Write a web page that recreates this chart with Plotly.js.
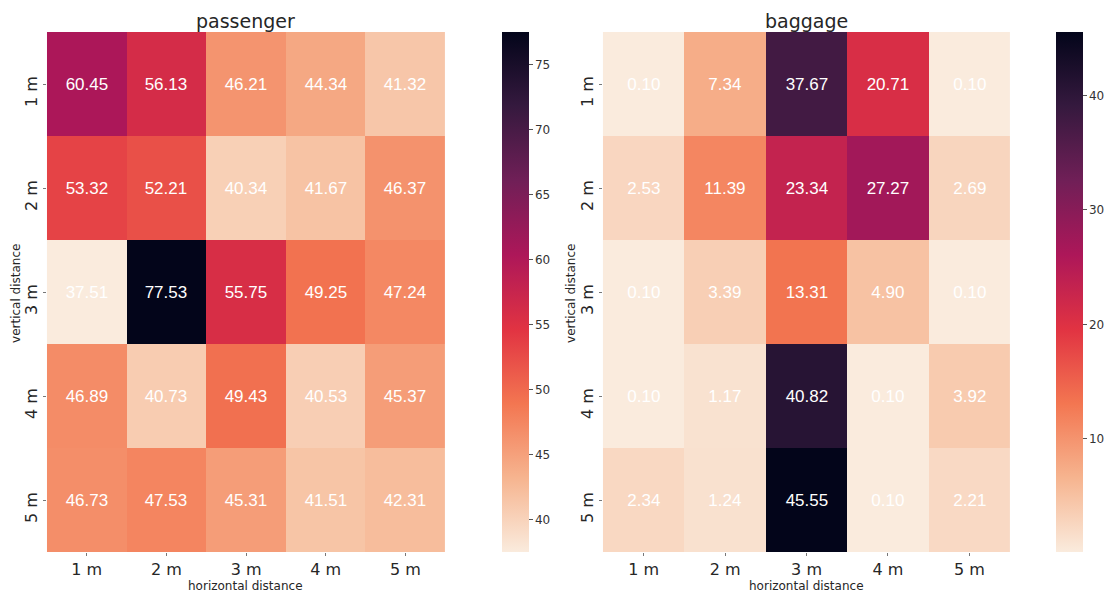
<!DOCTYPE html>
<html><head><meta charset="utf-8">
<script src="https://cdn.plot.ly/plotly-3.0.1.min.js"></script>
<style>html,body{margin:0;padding:0;background:#fff}#c{width:1105px;height:593px}</style>
</head><body><div id="c"></div>
<script>
const xLabels = ["1 m", "2 m", "3 m", "4 m", "5 m"];
const yLabels = ["1 m", "2 m", "3 m", "4 m", "5 m"];
const passenger = [
  [60.45, 56.13, 46.21, 44.34, 41.32],
  [53.32, 52.21, 40.34, 41.67, 46.37],
  [37.51, 77.53, 55.75, 49.25, 47.24],
  [46.89, 40.73, 49.43, 40.53, 45.37],
  [46.73, 47.53, 45.31, 41.51, 42.31]
];
const baggage = [
  [0.10, 7.34, 37.67, 20.71, 0.10],
  [2.53, 11.39, 23.34, 27.27, 2.69],
  [0.10, 3.39, 13.31, 4.90, 0.10],
  [0.10, 1.17, 40.82, 0.10, 3.92],
  [2.34, 1.24, 45.55, 0.10, 2.21]
];
const passengerTicks = [40, 45, 50, 55, 60, 65, 70, 75];
const baggageTicks = [10, 20, 30, 40];

const rocketR = [
  [0, "#faebdd"], [1/7, "#f6b48f"], [2/7, "#f37651"], [3/7, "#e13342"],
  [4/7, "#ad1759"], [5/7, "#701f57"], [6/7, "#35193e"], [1, "#03051a"]
];
const W = 1105, H = 593;
const yTop = 1 - 32 / H, yBot = 1 - 552 / H;
const tickFont = {family: "DejaVu Sans", size: 16, color: "#262626"};
const cbFont = {family: "DejaVu Sans", size: 12, color: "#333"};
const axTitleFont = {family: "DejaVu Sans", size: 12, color: "#262626"};

function hm(z, xa, ya, cbx, ticks) {
  const flat = z.flat();
  return {
    type: "heatmap", z: z, x: xLabels, y: yLabels, xaxis: xa, yaxis: ya,
    colorscale: rocketR, zmin: Math.min(...flat), zmax: Math.max(...flat),
    texttemplate: "%{z:.2f}", textfont: {family: "Liberation Sans", size: 17, color: "#ffffff"},
    xgap: 0, ygap: 0, hoverinfo: "skip",
    colorbar: {x: cbx / W, xanchor: "left", xpad: 0, ypad: 0, thickness: 27, len: yTop - yBot, lenmode: "fraction",
      y: yBot, yanchor: "bottom", outlinewidth: 0, tickvals: ticks, ticks: "outside", ticklen: 4,
      tickcolor: "#555", tickfont: cbFont}
  };
}

const data = [hm(passenger, "x", "y", 503, passengerTicks), hm(baggage, "x2", "y2", 1058, baggageTicks)];

function xax(d0, d1, anchor) {
  return {domain: [d0 / W, d1 / W], anchor: anchor, showgrid: false, zeroline: false, ticks: "outside",
    ticklen: 3, tickcolor: "#777", tickfont: tickFont, showline: false};
}
function yax(anchor) {
  return {domain: [yBot, yTop], anchor: anchor, autorange: "reversed", showgrid: false, zeroline: false,
    ticks: "outside", ticklen: 3, tickcolor: "#777", tickfont: tickFont, tickangle: -90, showline: false,
    ticklabelshift: -10};
}
function ann(text, x, y, size, angle) {
  return {text: text, x: x / W, y: 1 - y / H, xref: "paper", yref: "paper", xanchor: "center", yanchor: "middle",
    showarrow: false, textangle: angle || 0, font: Object.assign({}, axTitleFont, {size: size})};
}

const layout = {
  width: W, height: H, margin: {l: 0, r: 0, t: 0, b: 0},
  paper_bgcolor: "#fff", plot_bgcolor: "#fff", showlegend: false,
  xaxis: xax(47, 446, "y"), yaxis: yax("x"),
  xaxis2: xax(604, 1012, "y2"), yaxis2: yax("x2"),
  annotations: [
    ann("passenger", 246, 21, 19),
    ann("baggage", 808, 21, 19),
    ann("horizontal distance", 246, 586, 12),
    ann("horizontal distance", 808, 586, 12),
    ann("vertical distance", 16, 293, 12, -90),
    ann("vertical distance", 572, 293, 12, -90)
  ]
};
Plotly.newPlot("c", data, layout, {displayModeBar: false, staticPlot: true});
</script></body></html>
